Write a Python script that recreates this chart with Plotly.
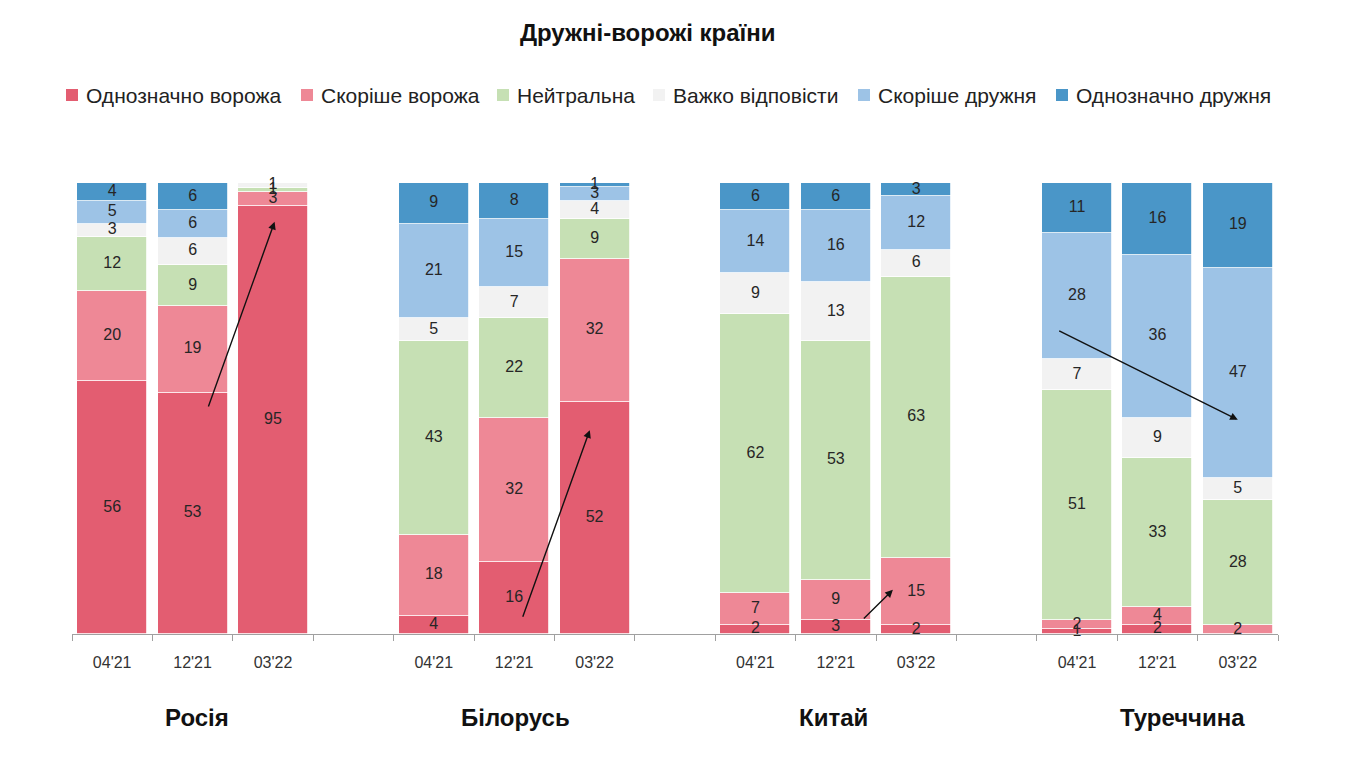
import plotly.graph_objects as go

countries = ["Росія", "Білорусь", "Китай", "Туреччина"]
periods = ["04'21", "12'21", "03'22"]

series_names = ["Однозначно ворожа", "Скоріше ворожа", "Нейтральна",
                "Важко відповісти", "Скоріше дружня", "Однозначно дружня"]
# values per bar: Росія x3, Білорусь x3, Китай x3, Туреччина x3
definitely_hostile = [56, 53, 95, 4, 16, 52, 2, 3, 2, 1, 2, 0]
rather_hostile     = [20, 19, 3, 18, 32, 32, 7, 9, 15, 2, 4, 2]
neutral            = [12, 9, 1, 43, 22, 9, 62, 53, 63, 51, 33, 28]
hard_to_say        = [3, 6, 1, 5, 7, 4, 9, 13, 6, 7, 9, 5]
rather_friendly    = [5, 6, 0, 21, 15, 3, 14, 16, 12, 28, 36, 47]
definitely_friendly = [4, 6, 0, 9, 8, 1, 6, 6, 3, 11, 16, 19]

series_values = [definitely_hostile, rather_hostile, neutral,
                 hard_to_say, rather_friendly, definitely_friendly]
colors = ["#e35d71", "#ee8896", "#c6e0b4", "#f2f2f2", "#9dc3e6", "#4a96c8"]

# bar positions: 3 bars per country, one empty slot between groups
xpos = [g * 4 + p for g in range(len(countries)) for p in range(len(periods))]
xlabels = [periods[p] for g in range(len(countries)) for p in range(len(periods))]

FONT = "Liberation Sans, Arial"
W, H = 1344, 760
ML, MR, MT, MB = 64, 74, 175, 134
PW, PH = W - ML - MR, H - MT - MB

fig = go.Figure()
for name, vals, col in zip(series_names, series_values, colors):
    fig.add_trace(go.Bar(
        x=xpos, y=vals, name=name, width=0.87,
        marker=dict(color=col, line=dict(color="white", width=0.8)),
        hoverinfo="skip", showlegend=False,
    ))

# segment labels (positions follow the 100% normalisation of the bars)
totals = [sum(s[i] for s in series_values) for i in range(len(xpos))]
tx, ty, tt = [], [], []
cum = [0] * len(xpos)
for vals in series_values:
    for i, v in enumerate(vals):
        if v > 0:
            tx.append(xpos[i])
            ty.append((cum[i] + v / 2) * 100.0 / totals[i])
            tt.append(str(v))
        cum[i] += v
fig.add_trace(go.Scatter(
    x=tx, y=ty, text=tt, mode="text", showlegend=False, cliponaxis=False,
    textfont=dict(family=FONT, size=16, color="#262626"),
    hoverinfo="skip",
))

# arrows (trend)
arrows = [
    (1.19, 50.1, 2.02, 91.4),
    (5.10, 3.5, 5.94, 45.2),
    (9.33, 3.1, 9.71, 9.8),
    (11.76, 67.4, 14.0, 47.5),
]
for x0, y0, x1, y1 in arrows:
    fig.add_annotation(x=x1, y=y1, ax=x0, ay=y0, xref="x", yref="y",
                       axref="x", ayref="y", showarrow=True, text="",
                       arrowhead=2, arrowsize=1.1, arrowwidth=1.4,
                       arrowcolor="#111111")

# country labels
country_x = [1.05, 5.02, 8.97, 13.31]
for name, cx in zip(countries, country_x):
    fig.add_annotation(x=cx, y=-0.186, xref="x", yref="paper", text="<b>%s</b>" % name,
                       showarrow=False, yanchor="middle",
                       font=dict(family=FONT, size=24, color="#111111"))

# legend (manual, single row)
legend_px = [64, 299, 495, 651, 856, 1054]   # square centers, figure pixels
legend_py = 87
sq = 6
for name, col, px in zip(series_names, colors, legend_px):
    x0 = (px - sq - ML) / PW
    x1 = (px + sq - ML) / PW
    yc = (H - MB - legend_py) / PH
    fig.add_shape(type="rect", xref="paper", yref="paper",
                  x0=x0, x1=x1, y0=yc - sq / PH, y1=yc + sq / PH,
                  fillcolor=col, line=dict(width=0))
    fig.add_annotation(x=(px + sq + 6 - ML) / PW, y=yc, xref="paper", yref="paper",
                       text=name, showarrow=False, xanchor="left", yanchor="middle",
                       font=dict(family=FONT, size=21, color="#222222"))

fig.update_layout(
    width=W, height=H,
    barmode="stack", barnorm="percent",
    plot_bgcolor="white", paper_bgcolor="white",
    margin=dict(l=ML, r=MR, t=MT, b=MB),
    title=dict(text="<b>Дружні-ворожі країни</b>", x=0.476, xref="container",
               y=0.967, yref="container", yanchor="middle", xanchor="center",
               font=dict(family=FONT, size=24, color="#111111")),
    showlegend=False,
    bargap=0,
)
fig.update_xaxes(range=[-0.5, 14.5], tickmode="array", tickvals=xpos, ticktext=xlabels,
                 ticks="", showline=True, linecolor="#a0a0a0", linewidth=1,
                 showgrid=False, zeroline=False, ticklabelstandoff=14,
                 tickfont=dict(family=FONT, size=16, color="#333333"),
                 minor=dict(tick0=-0.5, dtick=1, ticks="outside", ticklen=6,
                            tickcolor="#a0a0a0", tickwidth=1, showgrid=False))
fig.update_yaxes(range=[0, 100], visible=False, showgrid=False)

fig.write_html("out.html")
